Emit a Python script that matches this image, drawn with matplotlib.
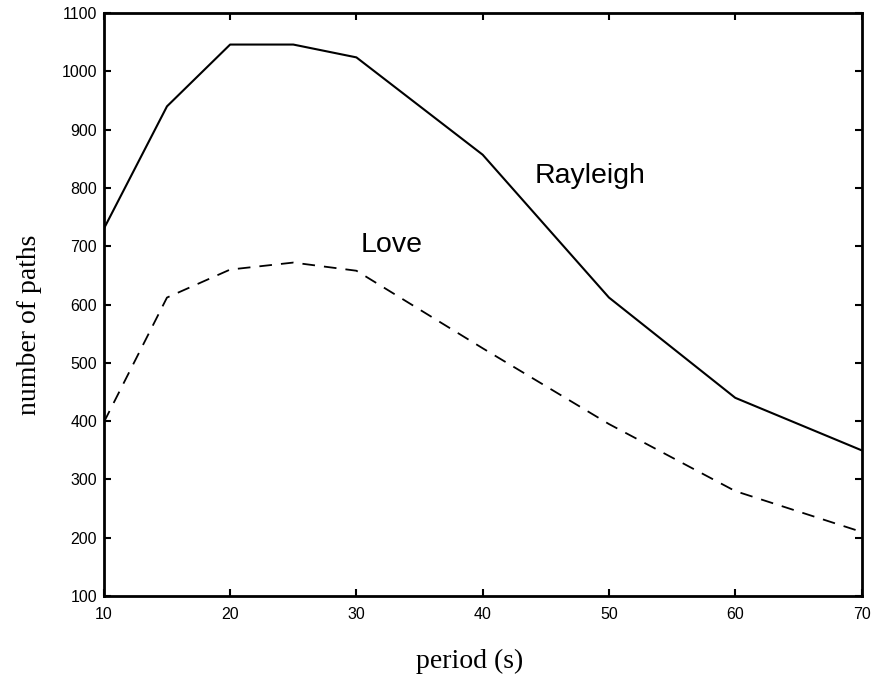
import matplotlib
matplotlib.use("Agg")
import matplotlib.pyplot as plt

period = [10, 15, 20, 25, 30, 40, 50, 60, 70]
rayleigh = [730, 940, 1046, 1046, 1024, 857, 612, 440, 350]
love = [398, 612, 660, 672, 658, 525, 395, 280, 210]

fig = plt.figure(figsize=(8.8, 6.81), dpi=100)
ax = fig.add_axes([0.118, 0.1248, 0.861, 0.856])

ax.plot(period, rayleigh, color="black", linewidth=1.5)
ax.plot(period, love, color="black", linewidth=1.3, dashes=(7, 5))

ax.text(48.5, 808, "Rayleigh", fontsize=20.5, ha="center", va="baseline", family="Liberation Sans")
ax.text(32.8, 690, "Love", fontsize=20.5, ha="center", va="baseline", family="Liberation Sans")

ax.set_xlim(10, 70)
ax.set_ylim(100, 1100)
ax.set_xticks(range(10, 71, 10))
ax.set_yticks(range(100, 1101, 100))
ax.tick_params(direction="in", top=True, right=True, length=5, width=1.5, labelsize=11.5)
ax.tick_params(axis="x", pad=8)
ax.tick_params(axis="y", pad=5)
for lab in ax.get_xticklabels() + ax.get_yticklabels():
    lab.set_family("Liberation Sans")
for s in ax.spines.values():
    s.set_linewidth(2)

ax.set_xlabel("period (s)", fontsize=20, family="Liberation Serif")
ax.xaxis.set_label_coords(0.483, -0.09)
ax.set_ylabel("number of paths", fontsize=20, family="Liberation Serif")
ax.yaxis.set_label_coords(-0.082, 0.465)

fig.savefig("out.png", dpi=100)
plt.close()
